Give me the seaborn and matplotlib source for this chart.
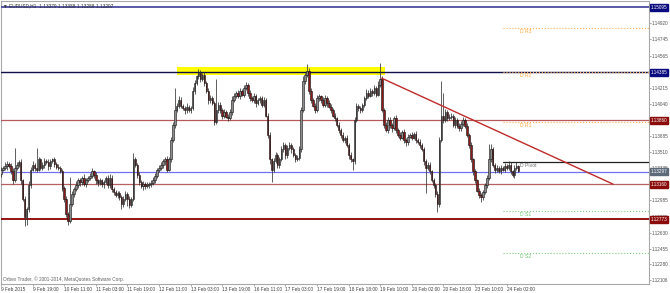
import numpy as np
import matplotlib
matplotlib.use("Agg")
import matplotlib.pyplot as plt
import matplotlib.transforms as mtransforms
import seaborn as sns

# ---------------- data ----------------
symbol_header = "\u25BC EURUSD,H1  1.13379 1.13388 1.13288 1.13297"
copyright_text = "Orbex Trader, \u00A9 2001-2014, MetaQuotes Software Corp."

first_open = 1.1327
closes = [
    1.1332, 1.1334, 1.1336, 1.1338, 1.1336,
    1.1330, 1.1320, 1.1334, 1.1337, 1.1340,
    1.1320, 1.1300, 1.1280, 1.1289, 1.1315,
    1.1332, 1.1337, 1.1334, 1.1332, 1.1343,
    1.1334, 1.1337, 1.1341, 1.1340, 1.1336,
    1.1341, 1.1343, 1.1338, 1.1335, 1.1334,
    1.1330, 1.1312, 1.1300, 1.1283, 1.1276,
    1.1294, 1.1305, 1.1311, 1.1315, 1.1320,
    1.1318, 1.1323, 1.1316, 1.1320, 1.1323,
    1.1325, 1.1330, 1.1326, 1.1320, 1.1317,
    1.1320, 1.1316, 1.1318, 1.1323, 1.1315,
    1.1323, 1.1311, 1.1307, 1.1304, 1.1306,
    1.1302, 1.1294, 1.1300, 1.1305, 1.1300,
    1.1293, 1.1300, 1.1343, 1.1337, 1.1326,
    1.1318, 1.1314, 1.1316, 1.1314, 1.1315, 1.1316,
    1.1317, 1.1320, 1.1325, 1.1332, 1.1334,
    1.1337, 1.1341, 1.1343, 1.1332, 1.1343,
    1.1364, 1.1381, 1.1397, 1.1402, 1.1408,
    1.1402, 1.1399, 1.1397, 1.1401, 1.1397,
    1.1399, 1.1418, 1.1427, 1.1434, 1.1438,
    1.1431, 1.1436, 1.1427, 1.1418, 1.1408,
    1.1410, 1.1405, 1.1384, 1.1397, 1.1403,
    1.1397, 1.1391, 1.1395, 1.1390, 1.1388,
    1.1395, 1.1408, 1.1413, 1.1416, 1.1412,
    1.1418, 1.1414, 1.1421, 1.1425, 1.1416,
    1.1410, 1.1408, 1.1412, 1.1405, 1.1408,
    1.1410, 1.1403, 1.1408, 1.1391, 1.1370,
    1.1343, 1.1332, 1.1341, 1.1348, 1.1337,
    1.1343, 1.1354, 1.1359, 1.1348, 1.1356,
    1.1359, 1.1354, 1.1348, 1.1343, 1.1345, 1.1354,
    1.1397, 1.1429, 1.1435, 1.1440, 1.1418,
    1.1408, 1.1402, 1.1397, 1.1410, 1.1412,
    1.1408, 1.1403, 1.1410, 1.1405, 1.1401,
    1.1397, 1.1391, 1.1388, 1.1381, 1.1375,
    1.1370, 1.1364, 1.1367, 1.1359, 1.1348,
    1.1343, 1.1341, 1.1386, 1.1402, 1.1399,
    1.1397, 1.1403, 1.1410, 1.1416, 1.1413,
    1.1418, 1.1416, 1.1421, 1.1414, 1.1425,
    1.1431, 1.1397, 1.1381, 1.1375, 1.1386,
    1.1381, 1.1377, 1.1388, 1.1375, 1.1370,
    1.1367, 1.1373, 1.1364, 1.1362, 1.1368,
    1.1370, 1.1367, 1.1371, 1.1364, 1.1362,
    1.1359, 1.1354, 1.1341, 1.1334, 1.1337,
    1.1330, 1.1320, 1.1315, 1.1305, 1.1294,
    1.1364, 1.1391, 1.1386, 1.1395, 1.1388, 1.1390,
    1.1391, 1.1381, 1.1386, 1.1380, 1.1377,
    1.1382, 1.1386, 1.1380, 1.1370, 1.1359,
    1.1343, 1.1330, 1.1320, 1.1309, 1.1304,
    1.1302, 1.1307, 1.1315, 1.1323, 1.1343,
    1.1354, 1.1337, 1.1332, 1.1334, 1.1330,
    1.1334, 1.1332, 1.1336, 1.1334, 1.1337,
    1.1330, 1.1326, 1.1334, 1.1336, 1.1330,
]

# upper / lower shadow lengths in pips
upper_wick_pips = [
    3, 2, 4, 3, 2,   3, 4, 22, 3, 2,   3, 2, 3, 2, 4,   3, 4, 2, 22, 3,
    2, 3, 4, 2, 3,   3, 2, 3, 2, 3,    2, 3, 2, 3, 2,   30, 3, 2, 4, 3,
    3, 2, 4, 3, 2,   3, 4, 2, 3, 2,    3, 2, 3, 2, 3,   4, 3, 2, 3, 2,
    3, 2, 3, 4, 2,   3, 2, 7, 3, 2,    3, 2, 3, 2, 3, 2,
    3, 4, 3, 2, 3,   3, 2, 3, 4, 3,    4, 3, 24, 3, 4,  3, 2, 3, 4, 2,
    3, 4, 3, 2, 4,   3, 2, 3, 2, 3,    4, 3, 2, 34, 3,  3, 2, 3, 2, 3,
    3, 4, 3, 2, 3,   3, 2, 4, 3, 2,    3, 2, 4, 3, 2,   3, 2, 3, 2, 3,
    3, 2, 4, 3, 2,   3, 4, 3, 2, 3,    3, 2, 3, 2, 3, 4,
    4, 5, 3, 8, 3,   3, 2, 3, 4, 3,    2, 3, 4, 2, 3,   3, 2, 3, 2, 3,
    2, 3, 2, 3, 2,   3, 2, 4, 3, 2,    3, 2, 3, 4, 3,   3, 2, 4, 3, 4,
    18, 3, 2, 3, 4,  3, 2, 3, 4, 2,    3, 2, 3, 2, 3,   2, 3, 2, 3, 2,
    3, 2, 3, 2, 3,   3, 2, 3, 2, 3,
    4, 38, 25, 3, 2, 3,
    3, 2, 3, 2, 3,   3, 4, 2, 3, 2,    3, 2, 3, 2, 3,   2, 3, 2, 3, 17,
    6, 3, 2, 3, 2,   3, 2, 3, 2, 4,    3, 2, 3, 4, 1,
]
lower_wick_pips = [
    3, 2, 3, 4, 2,   3, 4, 2, 3, 2,    4, 3, 10, 9, 3,  3, 2, 4, 3, 2,
    3, 2, 3, 2, 4,   3, 2, 3, 2, 3,    2, 3, 4, 3, 5,   3, 2, 3, 2, 3,
    4, 3, 2, 3, 2,   3, 2, 3, 4, 3,    2, 3, 4, 2, 3,   3, 4, 3, 2, 3,
    3, 5, 3, 2, 8,   3, 2, 3, 2, 3,    3, 2, 4, 3, 2, 3,
    3, 2, 3, 2, 3,   2, 3, 4, 3, 2,    3, 2, 3, 2, 3,   3, 2, 4, 3, 2,
    3, 2, 3, 2, 3,   3, 2, 3, 2, 4,    3, 2, 3, 2, 3,   3, 4, 3, 2, 3,
    2, 3, 2, 3, 2,   3, 2, 3, 2, 3,    3, 2, 3, 4, 2,   3, 2, 3, 2, 4,
    5, 14, 3, 2, 3,  3, 2, 3, 4, 3,    3, 4, 2, 3, 2, 3,
    3, 2, 3, 2, 3,   3, 2, 3, 2, 3,    3, 2, 3, 4, 2,   3, 2, 3, 2, 3,
    3, 2, 3, 2, 4,   3, 9, 3, 2, 3,    3, 2, 3, 2, 3,   2, 3, 2, 3, 2,
    3, 2, 3, 2, 3,   3, 4, 2, 3, 2,    3, 2, 3, 4, 3,   2, 3, 2, 3, 2,
    3, 2, 4, 28, 3,  3, 2, 3, 3, 9,
    3, 2, 3, 2, 3, 2,
    3, 2, 3, 2, 3,   3, 2, 3, 2, 3,    3, 4, 3, 2, 3,   6, 3, 2, 3, 2,
    3, 2, 4, 3, 2,   3, 2, 3, 2, 3,    3, 2, 3, 2, 1,
]

time_labels = ["9 Feb 2015", "9 Feb 19:00", "10 Feb 11:00", "11 Feb 03:00",
               "11 Feb 19:00", "12 Feb 11:00", "13 Feb 03:00", "13 Feb 19:00",
               "16 Feb 11:00", "17 Feb 03:00", "17 Feb 19:00", "18 Feb 18:00",
               "19 Feb 10:00", "20 Feb 02:00", "20 Feb 18:00", "23 Feb 10:00",
               "24 Feb 02:00"]
bars_per_label = 16

price_ticks = [1.14920, 1.14745, 1.14565, 1.14215, 1.14040, 1.13685, 1.13510,
               1.13335, 1.12985, 1.12805, 1.12630, 1.12455, 1.12280, 1.12106]

level_prices = [1.15095, 1.14385, 1.13860, 1.13297, 1.13160, 1.12773]
level_labels = ["1.15095", "1.14385", "1.13860", "1.13297", "1.13160", "1.12773"]

pivot_names = ["D R3", "D R2", "D R1", "D Pivot", "D S1", "D S2"]
pivot_prices = [1.14867, 1.14385, 1.13845, 1.13399, 1.12862, 1.12403]
pivot_start_bar = 254

trend_x = [192.8, 309.9]
trend_y = [1.1432, 1.1316]
zone_x = [89.3, 194.4]
zone_y = [1.14355, 1.14440]

# ---------------- style ----------------
sns.set_theme(style="white")
plt.rcParams["font.family"] = ["Liberation Sans", "DejaVu Sans"]

W, H = 670, 293
fig = plt.figure(figsize=(W / 100, H / 100), dpi=100)
fig.patch.set_facecolor("white")
ax = fig.add_axes([0.5 / W, (H - 284) / H, 648 / W, 283 / H])
ax.set_facecolor("white")

ymin, ymax = 1.120664, 1.151657
xmin, xmax = -0.25, 327.85
ax.set_ylim(ymin, ymax)
ax.set_xlim(xmin, xmax)

YFS = 3.35
XFS = 3.4

# resistance zone
ax.fill_between(zone_x, zone_y[0], zone_y[1], color="#ffff00", lw=0, zorder=1)

# horizontal levels
level_line_colors = ["#4a4a9e", "#10104a", "#b85858", "#7070f0", "#b86060", "#8b0000"]
level_line_widths = [1.3, 1.0, 0.9, 0.9, 0.9, 1.3]
level_box_colors = ["#0a0a80", "#0a0a80", "#8b0a0a", "#5c6a7a", "#8b0a0a", "#8b0a0a"]
for p, lc, lw in zip(level_prices, level_line_colors, level_line_widths):
    ax.axhline(p, color=lc, lw=lw, zorder=3)

# daily pivots
pivot_colors = ["#ffb050", "#ffb050", "#ffb050", "#202020", "#80d080", "#80d080"]
pivot_styles = [":", ":", ":", "-", ":", ":"]
pivot_text_colors = ["#ffa840", "#ffa840", "#ffa840", "#707070", "#70c870", "#70c870"]
for name, p, c, ls, tc in zip(pivot_names, pivot_prices, pivot_colors, pivot_styles, pivot_text_colors):
    ax.plot([pivot_start_bar, xmax], [p, p], color=c, ls=ls, lw=0.9 if ls == "-" else 0.8, zorder=3)
    ax.text(262.8, p - 0.00012, name, color=tc, fontsize=3.7, va="top", ha="left", zorder=6)

# candles
n = len(closes)
idx = np.arange(n)
opens = [first_open] + closes[:-1]
highs = [max(o, c) + u * 0.0001 for o, c, u in zip(opens, closes, upper_wick_pips)]
lows = [min(o, c) - d * 0.0001 for o, c, d in zip(opens, closes, lower_wick_pips)]
bull = np.array(closes) >= np.array(opens)
body_bottom = np.minimum(opens, closes)
body_h = np.maximum(np.abs(np.array(closes) - np.array(opens)), 0.00004)
face = np.where(bull, "#8c8c8c", "#8b1a1a")
ax.vlines(idx, lows, highs, color="#333333", lw=0.55, zorder=4)
ax.bar(idx, body_h, bottom=body_bottom, width=0.72, color=face, edgecolor="#111111",
       lw=0.4, zorder=5)

# trend line
sns.lineplot(x=trend_x, y=trend_y, ax=ax, color="#c02a2a", lw=1.0, zorder=6)

# axes / ticks
for s in ax.spines.values():
    s.set_color("#a8a8a8")
    s.set_linewidth(0.8)
ax.yaxis.tick_right()
ax.set_yticks(price_ticks)
ax.set_yticklabels([f"{v:.5f}" for v in price_ticks], fontsize=YFS, color="#505050")
ax.tick_params(axis="y", which="both", right=True, length=1.5, width=0.5, color="#808080", pad=0.8)

xt = [k * bars_per_label for k in range(len(time_labels))]
ax.set_xticks(xt)
ax.set_xticklabels(time_labels, fontsize=XFS, color="#404040", ha="left")
ax.tick_params(axis="x", which="both", bottom=True, length=1.5, width=0.5, color="#808080", pad=0.8)
ax.grid(False)

# boxed price labels on the right axis
trans = mtransforms.blended_transform_factory(ax.transAxes, ax.transData)
for p, lab, bc in zip(level_prices, level_labels, level_box_colors):
    yp = min(p, ymax - 0.0004)
    ax.text(1.0035, yp, lab, transform=trans, fontsize=YFS, color="white", va="center", ha="left",
            bbox=dict(boxstyle="square,pad=0.2", fc=bc, ec=bc), clip_on=False, zorder=10)

# header & copyright
fig.text(3 / W, 1 - 5.5 / H, symbol_header, fontsize=3.45, color="#303030", va="center", ha="left")
fig.text(3 / W, 1 - 279.5 / H, copyright_text, fontsize=3.4, color="#606060", va="center", ha="left")

fig.savefig("out.png", dpi=100, facecolor="white")
